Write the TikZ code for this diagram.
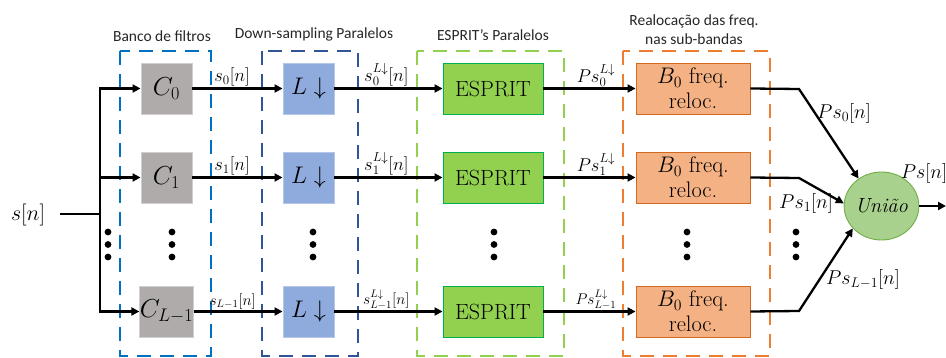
\RequirePackage{fix-cm}
\documentclass[tikz,border=0pt]{standalone}
\usepackage{fontspec}
\newfontfamily\hdr{Carlito}
\usetikzlibrary{arrows.meta,shapes.geometric}
\definecolor{cfill}{HTML}{AFABAB}
\definecolor{cdraw}{HTML}{D0CECE}
\definecolor{lfill}{HTML}{8FAADC}
\definecolor{ldraw}{HTML}{B4C7E7}
\definecolor{efill}{HTML}{92D050}
\definecolor{edraw}{HTML}{00B050}
\definecolor{bfill}{HTML}{F4B183}
\definecolor{bdraw}{HTML}{D2691E}
\definecolor{dblue}{HTML}{0070C0}
\definecolor{ddblue}{HTML}{2F5597}
\definecolor{dgreen}{HTML}{92D050}
\definecolor{dorange}{HTML}{ED7D31}
\definecolor{ufill}{HTML}{A9D18E}
\definecolor{udraw}{HTML}{70AD47}
\begin{document}
\begin{tikzpicture}[x=1pt,y=-1pt,
  blk/.style={minimum height=51pt,inner sep=0pt,line width=0.9pt},
  cbox/.style={blk,minimum width=51pt,fill=cfill,draw=cdraw,font=\fontsize{26}{30}\selectfont},
  lbox/.style={blk,minimum width=51pt,fill=lfill,draw=ldraw,font=\fontsize{24}{28}\selectfont},
  ebox/.style={blk,minimum width=100pt,fill=efill,draw=edraw,font=\fontsize{22}{26}\selectfont},
  bbox/.style={blk,minimum width=114pt,fill=bfill,draw=bdraw,align=center,font=\fontsize{22.5}{25}\selectfont},
  conn/.style={line width=2.3pt,line join=miter},
  arr/.style={conn,-{Triangle[length=8pt,width=8pt]}},
  grp/.style={line width=2.3pt,dash pattern=on 14pt off 9pt},
  hdrtext/.style={font=\hdr\fontsize{15.5}{18}\selectfont,text=black!85,inner sep=0pt,align=center},
  lab/.style={font=\fontsize{18.5}{21}\selectfont,inner sep=1pt,anchor=south},
  labs/.style={font=\fontsize{15.5}{18}\selectfont,inner sep=1pt,anchor=south},
  rlab/.style={font=\fontsize{20}{23}\selectfont,inner sep=0pt},
  vdot/.style={fill=black}
]
\useasboundingbox (0,0) rectangle (946,358);

% group frames
\draw[grp,draw=dblue]  (120,51) rectangle (211,356);
\draw[grp,draw=ddblue] (262,51) rectangle (358,356);
\draw[grp,draw=dgreen] (417,51) rectangle (564,356);
\draw[grp,draw=dorange](623,51) rectangle (770,356);

% headers
\node[hdrtext] (h1) at (162,36) {Banco de filtros};
\node[hdrtext] (h2) at (314,34) {Down-sampling Paralelos};
\node[hdrtext] (h3) at (493,35) {ESPRIT’s Paralelos};
\node[hdrtext] (h4) at (694,30) {Realocação das freq.\\[1pt]nas sub-bandas};

% blocks
\foreach \r/\y/\sub in {0/88.5/0, 1/177.5/1, 2/311.5/{L-1}}{
  \node[cbox] (C\r) at (166.5,\y) {$C_{\sub}$};
  \node[lbox] (L\r) at (308.5,\y) {$L\downarrow$};
  \node[ebox] (E\r) at (493,\y) {ESPRIT};
  \node[bbox] (B\r) at (693,\y) {$B_0$ freq.\\reloc.};
}

% union
\node[ellipse,minimum width=61pt,minimum height=68pt,inner sep=0pt,fill=ufill,draw=udraw,line width=0.9pt,
      font=\fontsize{20.5}{23}\selectfont\itshape] (U) at (881.5,206) {União};

% input
\node[font=\fontsize{22}{26}\selectfont,inner sep=0pt] (sn) at (28,215) {$s[n]$};
\coordinate (bus) at (100,214);
\coordinate (snend) at (60,214);
\draw[conn] (snend) -- (bus);
\draw[arr] (bus) |- (C0.west);
\draw[arr] (bus) |- (C1.west);
\draw[arr] (bus) |- (C2.west);

% rows
\draw[arr] (C0.east) -- node[lab,pos=0.44]{$s_0[n]$} (L0.west);
\draw[arr] (C1.east) -- node[lab,pos=0.44]{$s_1[n]$} (L1.west);
\draw[arr] (C2.east) -- node[labs,pos=0.44]{$s_{L-1}[n]$} (L2.west);

\draw[arr] (L0.east) -- node[lab,pos=0.48]{$s_0^{L\downarrow}[n]$} (E0.west);
\draw[arr] (L1.east) -- node[lab,pos=0.48]{$s_1^{L\downarrow}[n]$} (E1.west);
\draw[arr] (L2.east) -- node[labs,pos=0.48]{$s_{L-1}^{L\downarrow}[n]$} (E2.west);

\draw[arr] (E0.east) -- node[lab,pos=0.57]{$Ps_0^{L\downarrow}$} (B0.west);
\draw[arr] (E1.east) -- node[lab,pos=0.57]{$Ps_1^{L\downarrow}$} (B1.west);
\draw[arr] (E2.east) -- node[labs,pos=0.57]{$Ps_{L-1}^{L\downarrow}$} (B2.west);

\coordinate (k0) at (799,89);
\coordinate (k1) at (799,178);
\coordinate (k2) at (799,311);
\draw[arr] (B0.east) -- (k0) -- (U.130);
\draw[arr] (B1.east) -- (k1) -- (U.176);
\draw[arr] (B2.east) -- (k2) -- (U.218);

\node[rlab] (p0) at (844,114) {$Ps_0[n]$};
\node[rlab] (p1) at (806,204) {$Ps_1[n]$};
\node[rlab] (p2) at (863,280) {$Ps_{L-1}[n]$};

\coordinate (out) at (946,206);
\draw[arr] (U.east) -- (out);
\node[rlab] (ps) at (924,174) {$Ps[n]$};

% vertical dots
\foreach \x in {108,172,313,494,687,796}{
  \foreach \y in {232,244.5,257}{
    \fill[vdot] (\x,\y) circle (3.4pt);
  }
}
\end{tikzpicture}
\end{document}
